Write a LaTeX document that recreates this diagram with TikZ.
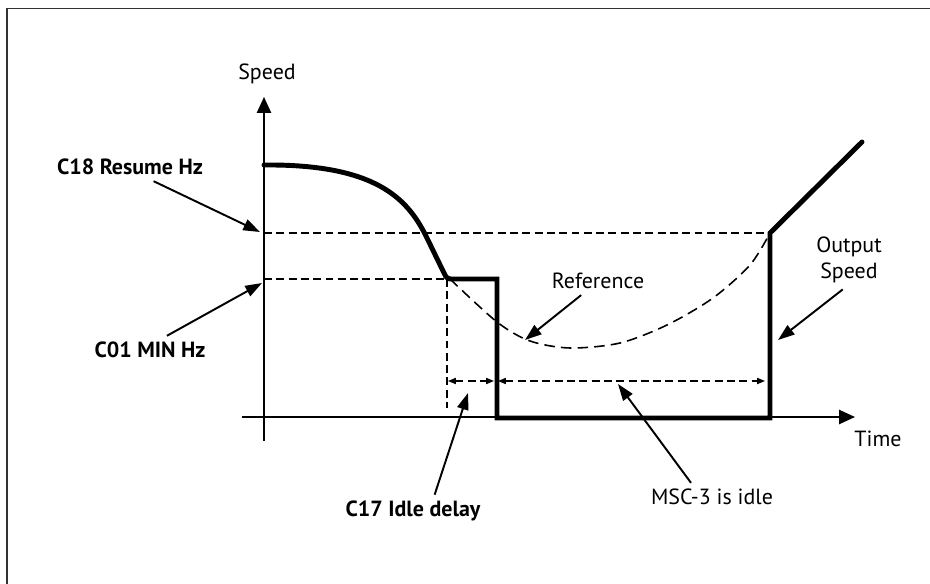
\documentclass[tikz,border=0pt]{standalone}
\usepackage{fontspec}
\setmainfont{PT Sans}
\usetikzlibrary{arrows.meta, positioning, calc}
\definecolor{FrameGray}{rgb}{0.2, 0.2, 0.2}

\begin{document}
\begin{tikzpicture}[x=0.2mm, y=-0.2mm, >=Triangle,
        axis/.style={line width=1.1pt, -{Triangle[length=9pt,width=8pt]}},
        speedline/.style={line width=2.8pt, line join=miter, line cap=round},
        guide/.style={line width=0.75pt, dash pattern=on 4.5pt off 2.5pt},
        refline/.style={line width=0.9pt, dash pattern=on 6pt off 3.5pt},
        span/.style={guide, {Triangle[length=4.5pt,width=3.5pt]}-{Triangle[length=4.5pt,width=3.5pt]}},
        lead/.style={line width=1.1pt, -{Triangle[length=9.5pt,width=6.5pt]}},
        lbl/.style={font=\fontsize{12.5}{15}\selectfont},
        bold/.style={font=\fontsize{12.5}{15}\selectfont\bfseries}]
        \useasboundingbox (0,0) rectangle (930,584);

        % Frame (top and left only)
        \draw[FrameGray, line width=0.9pt] (7,584) -- (7,8.5) -- (930,8.5);

        % Guide lines
        \draw[guide] (264,233) -- (770,233);
        \draw[guide] (264,279) -- (450,279);
        \draw[guide] (447,279) -- (447,408);
        \draw[refline] plot[smooth] coordinates {(450,279) (497,322) (530,341) (570,348)
            (620,343) (667,325) (713,298) (750,265) (770,233)};
        \draw[span] (448,381) -- (494,381);
        \draw[span] (498,381) -- (765,381);

        % Axes
        \draw[axis] (264,441) -- (264,97);
        \draw[axis] (242,417) -- (855,417);
        \node[lbl] (speed) at (267,74) {Speed};
        \node[lbl] (time) at (878,439) {Time};

        % Output speed
        \draw[speedline] (264,165) .. controls (375,164) and (407,198) .. (426,236)
            -- (444,273) .. controls (447,279) .. (454,279) -- (497,279)
            -- (497,418) -- (770,418) -- (770,233) -- (862,142);

        % Labels and leaders
        \coordinate (resumeTip) at (260,232);
        \coordinate (minTip) at (262,283);
        \coordinate (refTip) at (525,340);
        \coordinate (outTip) at (778,340);
        \coordinate (delayTip) at (468,393);
        \coordinate (idleTip) at (618,384);
        \node[bold] (resume) at (130,167) {C18 Resume Hz};
        \node[bold] (minhz) at (150,350) {C01 MIN Hz};
        \node[lbl] (ref) at (598,281) {Reference};
        \node[lbl, align=center] (out) at (849,260) {Output\\Speed};
        \node[bold] (delay) at (413,511) {C17 Idle delay};
        \node[lbl] (idle) at (712,497) {MSC-3 is idle};
        \draw[lead] (resume.-31) -- (resumeTip);
        \draw[lead] (minhz.40) -- (minTip);
        \draw[lead] (ref.220) -- (refTip);
        \draw[lead] (out.258) -- (outTip);
        \draw[lead] (delay.37) -- (delayTip);
        \draw[lead] (idle.146) -- (idleTip);
    \end{tikzpicture}
\end{document}
